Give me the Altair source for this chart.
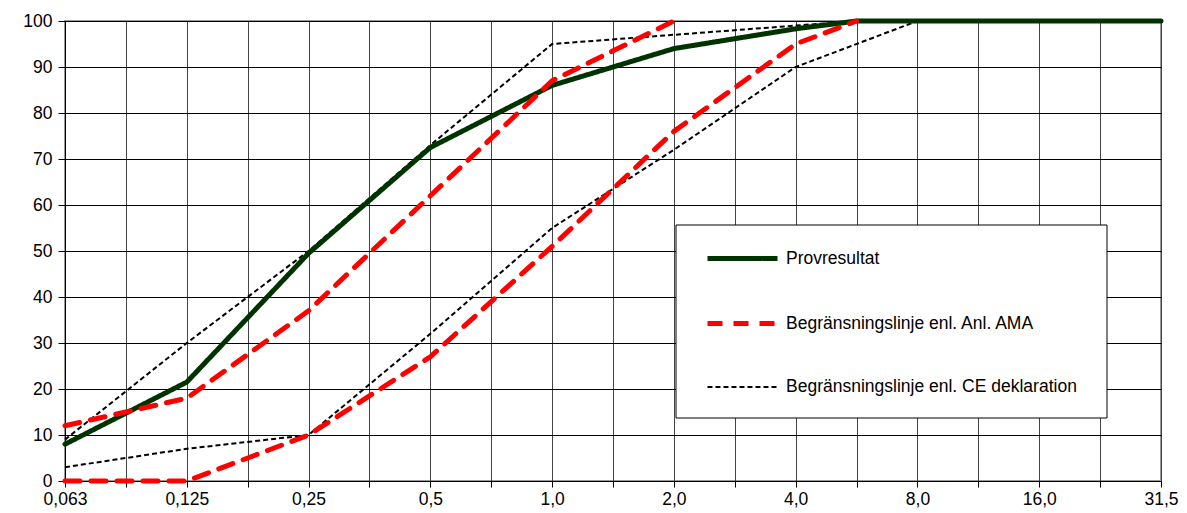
import altair as alt
import pandas as pd

# Sieve sizes (mm); every second one is an intermediate sieve without label
sieves = ["0,063", "0,09", "0,125", "0,18", "0,25", "0,355", "0,5", "0,71", "1,0", "1,4",
          "2,0", "2,8", "4,0", "5,6", "8,0", "11,2", "16,0", "22,4", "31,5"]
hidden_labels = sieves[1::2]

series_names = ["Provresultat",
                "Begränsningslinje enl. Anl. AMA",
                "Begränsningslinje enl. CE deklaration"]

# Provresultat (passing %)
prov_x = ["0,063", "0,125", "0,25", "0,5", "1,0", "2,0", "4,0", "5,6", "8,0", "16,0", "31,5"]
prov_y = [8, 21.5, 49.5, 72.5, 86, 94, 98.3, 100, 100, 100, 100]

# AMA limits
ama_upper_x = ["0,063", "0,125", "0,25", "0,5", "1,0", "2,0"]
ama_upper_y = [12, 18, 37, 62, 87, 100]
ama_lower_x = ["0,063", "0,125", "0,25", "0,5", "1,0", "2,0", "4,0", "5,6"]
ama_lower_y = [0, 0, 10, 27, 51, 76, 95, 100]

# CE declaration limits
ce_upper_x = ["0,063", "0,125", "0,25", "0,5", "1,0", "2,0", "4,0", "5,6", "8,0"]
ce_upper_y = [9, 30, 50, 73, 95, 97, 99, 100, 100]
ce_lower_x = ["0,063", "0,125", "0,25", "0,5", "1,0", "2,0", "4,0", "8,0"]
ce_lower_y = [3, 7, 10, 32, 55, 72, 90, 100]

rows = []
for series, line, xs, ys in [
    (series_names[0], "prov", prov_x, prov_y),
    (series_names[1], "ama_u", ama_upper_x, ama_upper_y),
    (series_names[1], "ama_l", ama_lower_x, ama_lower_y),
    (series_names[2], "ce_u", ce_upper_x, ce_upper_y),
    (series_names[2], "ce_l", ce_lower_x, ce_lower_y),
]:
    for x, y in zip(xs, ys):
        rows.append({"series": series, "line": line, "sieve": x,
                     "order": sieves.index(x), "value": y})
df = pd.DataFrame(rows)

FONT = "Liberation Sans"
hidden_js = "[" + ",".join("'" + h + "'" for h in hidden_labels) + "]"

legend = alt.Legend(
    title=None, orient="none", legendX=640, legendY=200,
    symbolType="stroke", symbolSize=4900, rowPadding=17,
    labelFontSize=17.5, labelFont=FONT, labelColor="#000", labelOffset=6,
    labelLimit=600, padding=0,
)

enc = dict(
    x=alt.X("sieve:O", sort=sieves,
            scale=alt.Scale(type="point", domain=sieves, padding=0),
            axis=alt.Axis(title=None, labelAngle=0,
                          labelExpr=f"indexof({hidden_js}, datum.value) >= 0 ? '' : datum.value",
                          grid=True, gridColor="#444", gridWidth=1,
                          tickColor="#000", tickSize=6, domainColor="#000",
                          labelFont=FONT, labelFontSize=17.5, labelColor="#000",
                          labelPadding=3)),
    y=alt.Y("value:Q", scale=alt.Scale(domain=[0, 100]),
            axis=alt.Axis(title=None, values=list(range(0, 101, 10)),
                          grid=True, gridColor="#000", gridWidth=1,
                          tickColor="#000", tickSize=7, domainColor="#000",
                          labelFont=FONT, labelFontSize=17.5, labelColor="#000",
                          labelPadding=6)),
    color=alt.Color("series:N", scale=alt.Scale(domain=series_names,
                                                range=["#003300", "#ff0000", "#000000"]),
                    legend=legend),
    strokeDash=alt.StrokeDash("series:N", scale=alt.Scale(domain=series_names,
                                                          range=[[1, 0], [15, 11], [5, 3]]),
                              legend=legend),
    strokeWidth=alt.StrokeWidth("series:N", scale=alt.Scale(type="ordinal", domain=series_names,
                                                            range=[5, 5, 2]),
                                legend=legend),
    detail="line:N",
    order="order:Q",
)

base = alt.Chart(df)
ce_layer = base.transform_filter(
    alt.datum.series == series_names[2]
).mark_line(strokeCap="butt", strokeJoin="miter").encode(**enc)
main_layer = base.transform_filter(
    alt.datum.series != series_names[2]
).mark_line(strokeCap="round", strokeJoin="round").encode(**enc)

box = alt.Chart(pd.DataFrame({"a": [0]})).mark_rect(
    fill="white", stroke="#000", strokeWidth=1
).encode(x=alt.value(611), x2=alt.value(1042), y=alt.value(204), y2=alt.value(397))

chart = alt.layer(ce_layer, main_layer, box).properties(
    width=1096, height=460,
    autosize=alt.AutoSizeParams(type="none"),
    padding={"left": 57, "top": 13, "right": 18, "bottom": 30},
).configure_view(stroke="#999", strokeWidth=2)

chart.save("out.html", embed_options={"renderer": "svg", "actions": False})
